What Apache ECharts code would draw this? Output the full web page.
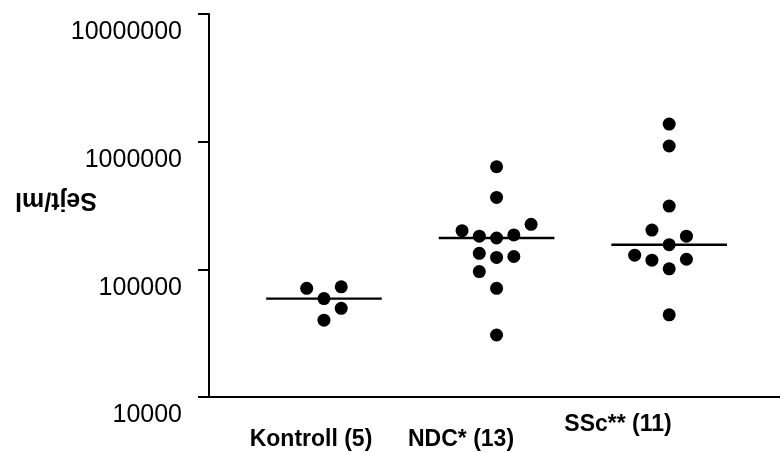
<!DOCTYPE html>
<html>
<head>
<meta charset="utf-8">
<script src="https://cdn.jsdelivr.net/npm/echarts@6/dist/echarts.min.js"></script>
<style>
html,body{margin:0;padding:0;background:#fff;}
#c{width:780px;height:453px;}
</style>
</head>
<body>
<div id="c"></div>
<script>
// ---- data ----
const categories = ['Kontroll (5)', 'NDC* (13)', 'SSc** (11)'];
const kontrollValues = [71000, 73000, 59000, 49500, 40000];
const kontrollSlots  = [-1, 1, 0, 1, 0];
const ndcValues = [636000, 366000, 201000, 182000, 176000, 186000, 225000, 133500, 124000, 126000, 96000, 71000, 30600];
const ndcSlots  = [0, 0, -2, -1, 0, 1, 2, -1, 0, 1, -1, 0, 0];
const sscValues = [1374000, 925000, 313000, 203000, 182000, 156000, 129000, 118000, 120000, 101000, 44000];
const sscSlots  = [0, 0, 0, -1, 1, 0, -2, -1, 1, 0, 0];
const medians = [59000, 176000, 156000];
const yTicks = [10000, 100000, 1000000, 10000000];
const yName = 'Sejt/ml';

// ---- layout ----
const slotWidth = 0.1;
const medianHalf = 0.335;
const labelPos = [[311, 440], [461, 440], [618, 425]];
const FONT = '"Liberation Sans", Arial, sans-serif';

const groups = [
  [kontrollValues, kontrollSlots],
  [ndcValues, ndcSlots],
  [sscValues, sscSlots]
];

const series = [];
groups.forEach(function (g, i) {
  series.push({
    type: 'line',
    data: [[i - medianHalf, medians[i]], [i + medianHalf, medians[i]]],
    symbol: 'none',
    lineStyle: { color: '#000', width: 2.4 },
    silent: true,
    z: 2
  });
});
groups.forEach(function (g, i) {
  series.push({
    type: 'scatter',
    name: categories[i],
    data: g[0].map(function (v, k) { return [i + g[1][k] * slotWidth, v]; }),
    symbol: 'circle',
    symbolSize: 13,
    itemStyle: { color: '#000', opacity: 1 },
    z: 3
  });
});

const chart = echarts.init(document.getElementById('c'), null, { renderer: 'canvas' });
chart.setOption({
  animation: false,
  backgroundColor: '#fff',
  grid: { left: 209, right: 0, top: 14, bottom: 56 },
  xAxis: {
    type: 'value',
    min: -0.666,
    max: 2.642,
    axisLine: { show: true, onZero: false, lineStyle: { color: '#000', width: 2 } },
    axisTick: { show: false },
    axisLabel: { show: false },
    splitLine: { show: false }
  },
  yAxis: {
    type: 'log',
    logBase: 10,
    min: yTicks[0],
    max: yTicks[yTicks.length - 1],
    axisLine: { show: true, onZero: false, lineStyle: { color: '#000', width: 2 } },
    axisTick: { show: true, inside: false, length: 11, lineStyle: { color: '#000', width: 2 } },
    axisLabel: {
      show: true,
      margin: 27,
      fontFamily: FONT,
      fontSize: 25,
      lineHeight: 37,
      color: '#000',
      verticalAlign: 'top',
      formatter: function (v) { return String(Math.round(v)); }
    },
    splitLine: { show: false }
  },
  graphic: categories.map(function (c, i) {
    return {
      type: 'text',
      x: labelPos[i][0],
      y: labelPos[i][1],
      style: {
        text: c,
        font: 'bold 23px ' + FONT,
        fill: '#000',
        textAlign: 'center',
        textVerticalAlign: 'middle'
      }
    };
  }).concat([{
    type: 'text',
    x: 56,
    y: 200,
    rotation: Math.PI,
    style: {
      text: yName,
      font: 'bold 25px ' + FONT,
      fill: '#000',
      textAlign: 'center',
      textVerticalAlign: 'middle'
    }
  }]),
  series: series
});
</script>
</body>
</html>
